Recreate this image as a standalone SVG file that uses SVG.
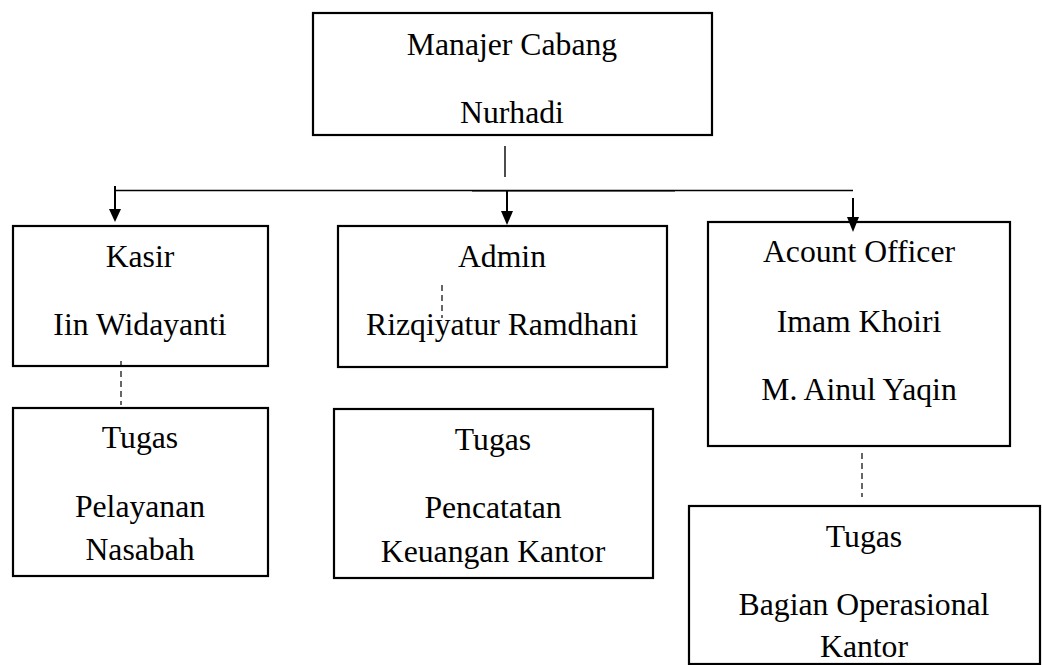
<svg xmlns="http://www.w3.org/2000/svg" width="1042" height="665" viewBox="0 0 1042 665">
<style>
.box{fill:#fff;stroke:#000;stroke-width:2.2}
.t{font-family:"Liberation Serif","Times New Roman",serif;font-size:31.7px;fill:#000;text-anchor:middle}
.ln{stroke:#000;stroke-width:1.4;fill:none}
.dash{stroke:#000;stroke-width:1.2;fill:none;stroke-dasharray:6,4}
.ah{fill:#000}
</style>
<rect width="1042" height="665" fill="#fff"/>
<g id="node-manajer">
<rect class="box" x="313" y="13" width="399" height="122"/>
<text class="t" x="512" y="55">Manajer Cabang</text>
<text class="t" x="512" y="123">Nurhadi</text>
</g>
<g id="node-kasir">
<rect class="box" x="13" y="226" width="255" height="140"/>
<text class="t" x="140" y="267">Kasir</text>
<text class="t" x="140" y="335">Iin Widayanti</text>
</g>
<g id="node-admin">
<rect class="box" x="338" y="226" width="329" height="141"/>
<text class="t" x="502" y="267">Admin</text>
<text class="t" x="502" y="335">Rizqiyatur Ramdhani</text>
</g>
<g id="node-ao">
<rect class="box" x="708" y="222" width="302" height="224"/>
<text class="t" x="859" y="262">Acount Officer</text>
<text class="t" x="859" y="332">Imam Khoiri</text>
<text class="t" x="859" y="400">M. Ainul Yaqin</text>
</g>
<g id="node-tugas-kasir">
<rect class="box" x="13" y="408" width="255" height="168"/>
<text class="t" x="140" y="448">Tugas</text>
<text class="t" x="140" y="517">Pelayanan</text>
<text class="t" x="140" y="560">Nasabah</text>
</g>
<g id="node-tugas-admin">
<rect class="box" x="334" y="409" width="319" height="169"/>
<text class="t" x="493" y="450">Tugas</text>
<text class="t" x="493" y="518">Pencatatan</text>
<text class="t" x="493" y="562">Keuangan Kantor</text>
</g>
<g id="node-tugas-ao">
<rect class="box" x="689" y="506" width="351" height="158"/>
<text class="t" x="864" y="547">Tugas</text>
<text class="t" x="864" y="615">Bagian Operasional</text>
<text class="t" x="864" y="657">Kantor</text>
</g>
<g id="connectors">
<line class="ln" x1="505" y1="146" x2="505" y2="177"/>
<line class="ln" x1="115" y1="190.5" x2="853" y2="190.5"/>
<line class="ln" x1="472" y1="191" x2="675" y2="191" style="stroke-width:1"/>
<line class="ln" x1="115" y1="186" x2="115" y2="212" style="stroke-width:2"/>
<polygon class="ah" points="109,209 121,209 115,222"/>
<line class="ln" x1="507" y1="190" x2="507" y2="214" style="stroke-width:2"/>
<polygon class="ah" points="501,211 513,211 507,225"/>
<line class="ln" x1="853" y1="198" x2="853" y2="220" style="stroke-width:2"/>
<polygon class="ah" points="847,217 859,217 853,232"/>
<line class="dash" x1="121" y1="361" x2="121" y2="405"/>
<line class="dash" x1="442" y1="285" x2="442" y2="318"/>
<line class="dash" x1="862" y1="453" x2="862" y2="497"/>
</g>
</svg>
